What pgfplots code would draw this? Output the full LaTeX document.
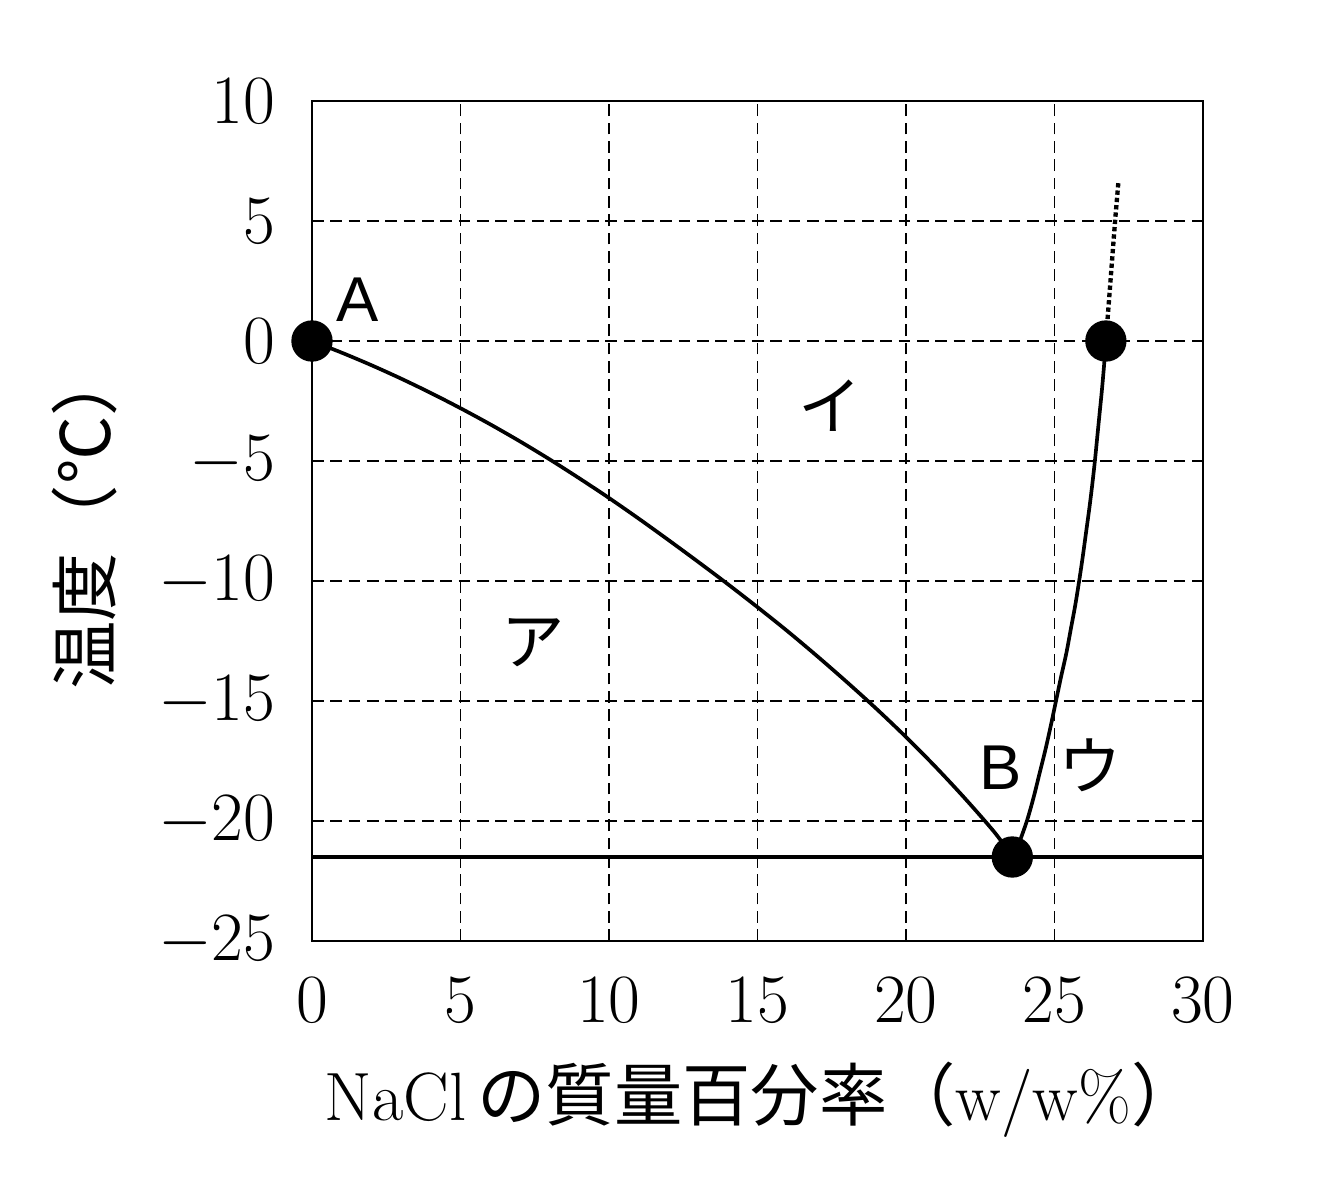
\documentclass[border=0pt]{standalone}
\usepackage{fontspec}
\usepackage{pgfplots}
\pgfplotsset{compat=1.18}
\newfontfamily\cjk{Noto Sans CJK JP}
\newfontfamily\sans{Liberation Sans}
\begin{document}
\begin{tikzpicture}
\path[use as bounding box] (-93.6pt,-71.7pt) rectangle (305.4pt,282.3pt);
\begin{axis}[
 at={(0,0)}, anchor=south west,
 scale only axis, width=267.3pt, height=252pt,
 xmin=0,xmax=30,ymin=-25,ymax=10,
 xtick={0,5,...,30}, ytick={-25,-20,...,10},
 grid=major,
 major grid style={black, line width=0.55pt, dash pattern=on 3.5pt off 2pt},
 major tick length=0pt,
 axis line style={line width=0.65pt},
 tick label style={font=\fontsize{21}{21}\selectfont},
 xticklabel style={yshift=-7.5pt},
 yticklabel style={xshift=-7.5pt},
 clip=false,
]
\addplot[black, line width=1.1pt] coordinates {(0,-21.5) (30,-21.5)};
\addplot[black, line width=1.1pt, smooth] coordinates {
(0,0) (1,-0.485) (2,-1.007) (3,-1.567) (4,-2.165) (5,-2.8) (6,-3.47) (7,-4.18) (8,-4.93) (9,-5.72) (10,-6.54) (11,-7.4) (12,-8.29) (13,-9.2) (14,-10.13) (15,-11.09) (16,-12.08) (17,-13.12) (18,-14.2) (19,-15.32) (20,-16.5) (21,-17.75) (22,-19.08) (23,-20.5) (23.58,-21.5)};
\addplot[black, line width=1.1pt, smooth] coordinates {
(23.58,-21.5) (23.78,-21) (24.07,-20) (24.3,-19) (24.5,-18) (24.7,-17) (24.88,-16) (25.05,-15) (25.22,-14) (25.4,-13) (25.55,-12) (25.7,-11) (25.83,-10) (25.95,-9) (26.06,-8) (26.17,-7) (26.27,-6) (26.36,-5) (26.44,-4) (26.52,-3) (26.6,-2) (26.67,-1) (26.73,0)};
\addplot[black, line width=1.3pt, dash pattern=on 1.3pt off 0.9pt] coordinates {(26.73,0) (27.04,5) (27.15,6.6)};
\addplot[black, only marks, mark=*, mark size=6pt] coordinates {(0,0) (26.73,0) (23.58,-21.5)};
\node[font=\sans\fontsize{19}{19}\selectfont] at (axis cs:1.55,1.71) {A};
\node[font=\sans\fontsize{19}{19}\selectfont] at (axis cs:23.17,-17.79) {B};
\node[font=\cjk\fontsize{19}{19}\selectfont] at (axis cs:17.44,-2.71) {イ};
\node[font=\cjk\fontsize{19}{19}\selectfont] at (axis cs:7.44,-12.58) {ア};
\node[font=\cjk\fontsize{19}{19}\selectfont] at (axis cs:26.2,-17.67) {ウ};
\node[rotate=90, font=\fontsize{20.5}{22}\selectfont] at ([xshift=-68.1pt,yshift=0.6pt]rel axis cs:0,0.5) {{\cjk 温度（℃）}};
\node[font=\fontsize{20.5}{22}\selectfont] at ([xshift=1.4pt,yshift=-47.7pt]rel axis cs:0.5,0) {NaCl\,{\cjk の質量百分率（}w/w\%{\cjk ）}};
\end{axis}
\end{tikzpicture}
\end{document}
